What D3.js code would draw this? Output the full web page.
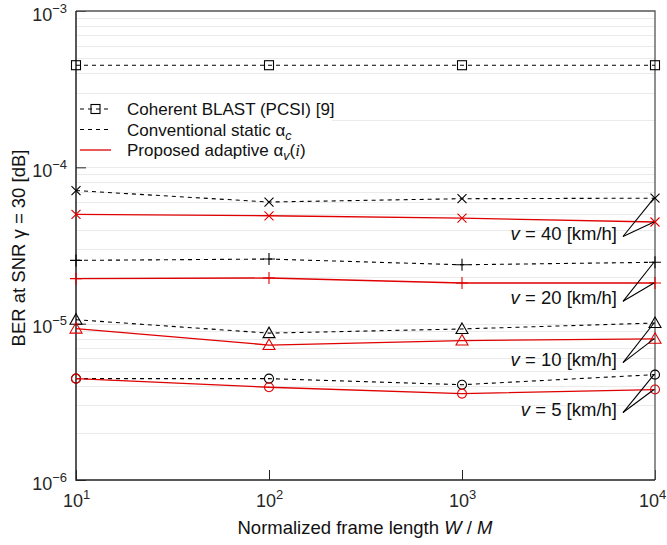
<!DOCTYPE html>
<html><head><meta charset="utf-8">
<script src="https://cdn.jsdelivr.net/npm/d3@7"></script>
<style>
body{margin:0;background:#fff;}
svg{display:block;font-family:"Liberation Sans",Arial,Helvetica,sans-serif;}
</style></head>
<body><svg id="c" width="667" height="545"></svg>
<script>
// ---- data ----
const frameLength = [10, 100, 1000, 10000];
const xTickExp = [1, 2, 3, 4];
const yTickExp = [-6, -5, -4, -3];
const blast = [4.5e-4, 4.5e-4, 4.5e-4, 4.5e-4];
const conv40 = [7.1e-5, 6.0e-5, 6.3e-5, 6.35e-5];
const prop40 = [5.0e-5, 4.9e-5, 4.73e-5, 4.47e-5];
const conv20 = [2.54e-5, 2.59e-5, 2.38e-5, 2.47e-5];
const prop20 = [1.94e-5, 1.96e-5, 1.82e-5, 1.82e-5];
const conv10 = [1.06e-5, 8.7e-6, 9.25e-6, 1.01e-5];
const prop10 = [9.3e-6, 7.3e-6, 7.8e-6, 8.0e-6];
const conv5 = [4.45e-6, 4.45e-6, 4.07e-6, 4.72e-6];
const prop5 = [4.45e-6, 3.92e-6, 3.57e-6, 3.79e-6];
const speeds = ["40", "20", "10", "5"];
const speedLabelBER = [3.61e-5, 1.39e-5, 5.63e-6, 2.70e-6];
const legendLabels = ["Coherent BLAST (PCSI) [9]", "Conventional static ", "Proposed adaptive "];
const xTitle = "Normalized frame length ";
const yTitle = "BER at SNR \u03b3 = 30 [dB]";

// ---- layout ----
const W = 667, H = 545;
const m = {l: 76, t: 11, r: 12, b: 65};
const svg = d3.select("#c");
const x = d3.scaleLog().domain([10, 10000]).range([m.l, W - m.r]);
const y = d3.scaleLog().domain([1e-6, 1e-3]).range([H - m.b, m.t]);
const red = "#e00000";
const FS = 18.5;
const LFS = 17;

// grid
const gridVals = [];
for (let e = -6; e < -3; e++) for (let k = 1; k < 10; k++) gridVals.push(k * Math.pow(10, e));
svg.append("g").selectAll("line").data(gridVals.filter(v => v > 1e-6)).join("line")
  .attr("x1", m.l).attr("x2", W - m.r)
  .attr("y1", d => Math.round(y(d)) + 0.5).attr("y2", d => Math.round(y(d)) + 0.5)
  .attr("stroke", "#ebebeb").attr("stroke-width", 1);

// axes
const sup = n => (n < 0 ? "\u2212" + (-n) : "" + n);
const gx = svg.append("g").attr("transform", `translate(0,${H - m.b})`)
  .call(d3.axisBottom(x).tickValues(xTickExp.map(e => Math.pow(10, e))).tickSizeInner(-10).tickSizeOuter(0).tickFormat(() => ""));
gx.select(".domain").remove();
gx.selectAll(".tick line").attr("stroke", "#262626");
gx.selectAll(".tick text").each(function(d, i) {
  const t = d3.select(this).attr("y", 27).attr("dy", 0).attr("font-size", 18).attr("fill", "#262626");
  if (i === xTickExp.length - 1) t.attr("x", -3);
  t.append("tspan").text("10");
  t.append("tspan").attr("dy", -8).attr("font-size", 13).text(sup(xTickExp[i]));
});
const gy = svg.append("g").attr("transform", `translate(${m.l},0)`)
  .call(d3.axisLeft(y).tickValues(yTickExp.map(e => Math.pow(10, e))).tickSizeInner(-10).tickSizeOuter(0).tickPadding(9).tickFormat(() => ""));
gy.select(".domain").remove();
gy.selectAll(".tick line").attr("stroke", "#262626");
gy.selectAll(".tick text").each(function(d, i) {
  const t = d3.select(this).attr("y", 9).attr("dy", 0).attr("font-size", 18).attr("fill", "#262626");
  t.append("tspan").text("10");
  t.append("tspan").attr("dy", -8).attr("font-size", 13).text(sup(yTickExp[i]));
});

// frame
svg.append("path").attr("d", `M${m.l},${m.t}H${W - m.r}V${H - m.b}`).attr("fill", "none").attr("stroke", "#555").attr("stroke-width", 1.3);
svg.append("path").attr("d", `M${m.l},${m.t}V${H - m.b}H${W - m.r}`).attr("fill", "none").attr("stroke", "#222").attr("stroke-width", 1.5);

// markers
function marker(g, shape, cx, cy, color) {
  const s = g.append("g").attr("transform", `translate(${cx},${cy})`).attr("fill", "none").attr("stroke", color).attr("stroke-width", 1.1);
  if (shape === "x") s.append("path").attr("d", "M-4.5,-4.5L4.5,4.5M-4.5,4.5L4.5,-4.5");
  else if (shape === "+") s.append("path").attr("d", "M-6,0H6M0,-6V6");
  else if (shape === "tri") s.append("path").attr("d", "M0,-6L6,4.5H-6Z");
  else if (shape === "o") s.append("circle").attr("r", 4.5);
  else if (shape === "sq") s.append("rect").attr("x", -4.5).attr("y", -4.5).attr("width", 9).attr("height", 9);
}
const line = d3.line().x((d, i) => x(frameLength[i])).y(d => y(d));
const series = [
  {v: blast, dash: true, color: "#000", shape: "sq"},
  {v: conv40, dash: true, color: "#000", shape: "x"},
  {v: prop40, dash: false, color: red, shape: "x"},
  {v: conv20, dash: true, color: "#000", shape: "+"},
  {v: prop20, dash: false, color: red, shape: "+"},
  {v: conv10, dash: true, color: "#000", shape: "tri"},
  {v: prop10, dash: false, color: red, shape: "tri"},
  {v: conv5, dash: true, color: "#000", shape: "o"},
  {v: prop5, dash: false, color: red, shape: "o"}
];
const gl = svg.append("g");
series.forEach(s => {
  gl.append("path").attr("d", line(s.v)).attr("fill", "none").attr("stroke", s.color)
    .attr("stroke-width", s.dash ? 1.1 : 1.3).attr("stroke-dasharray", s.dash ? "4,4" : null);
});
series.forEach(s => s.v.forEach((d, i) => marker(gl, s.shape, x(frameLength[i]), y(d), s.color)));

// speed annotations
const pairs = [[conv40, prop40], [conv20, prop20], [conv10, prop10], [conv5, prop5]];
const ga = svg.append("g");
speeds.forEach((sp, i) => {
  const ly = y(speedLabelBER[i]);
  const lx = x(10000) - 32;
  pairs[i].forEach(arr => ga.append("line").attr("x1", lx).attr("y1", ly).attr("x2", x(10000) - 1).attr("y2", y(arr[3]))
    .attr("stroke", "#000").attr("stroke-width", 1.1));
  const t = ga.append("text").attr("x", lx - 6).attr("y", ly + 3).attr("text-anchor", "end").attr("font-size", FS).attr("fill", "#111");
  t.append("tspan").attr("font-style", "italic").text("v");
  t.append("tspan").text(" = " + sp + " [km/h]");
});

// legend
const lg = svg.append("g");
lg.append("rect").attr("x", m.l + 1).attr("y", 97).attr("width", 255).attr("height", 64).attr("fill", "#fff");
const rowsY = [109, 129.5, 150];
const styles = [{dash: "4,4", color: "#000", shape: "sq"}, {dash: "4,4", color: "#000"}, {dash: null, color: red}];
styles.forEach((st, i) => {
  lg.append("line").attr("x1", 80).attr("x2", 111).attr("y1", rowsY[i]).attr("y2", rowsY[i])
    .attr("stroke", st.color).attr("stroke-width", st.dash ? 1.1 : 1.3).attr("stroke-dasharray", st.dash);
  if (st.shape) marker(lg, st.shape, 95.5, rowsY[i], st.color);
  const t = lg.append("text").attr("x", 127).attr("y", rowsY[i] + 6).attr("font-size", LFS).attr("fill", "#111").text(legendLabels[i]);
  if (i === 1) { t.append("tspan").text("\u03b1"); t.append("tspan").attr("dy", 4).attr("font-size", 12.5).attr("font-style", "italic").text("c"); }
  if (i === 2) { t.append("tspan").text("\u03b1"); t.append("tspan").attr("dy", 4).attr("font-size", 12.5).attr("font-style", "italic").text("v");
    t.append("tspan").attr("dy", -4).text("(");
    t.append("tspan").attr("font-style", "italic").attr("font-family", "Liberation Serif, serif").text("i");
    t.append("tspan").text(")"); }
});

// axis titles
const xt = svg.append("text").attr("x", 365).attr("y", 534).attr("text-anchor", "middle").attr("font-size", FS).attr("fill", "#111").text(xTitle);
xt.append("tspan").attr("font-style", "italic").text("W");
xt.append("tspan").text(" / ");
xt.append("tspan").attr("font-style", "italic").text("M");
svg.append("text").attr("transform", "translate(25,248) rotate(-90)").attr("text-anchor", "middle").attr("font-size", FS).attr("fill", "#111").text(yTitle);
</script></body></html>
